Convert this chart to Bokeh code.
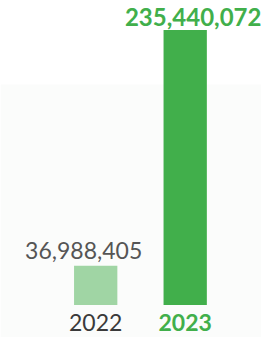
from bokeh.plotting import figure
from bokeh.models import Range1d, ColumnDataSource, BoxAnnotation
from bokeh.core.properties import value
from bokeh.embed import file_html
from bokeh.resources import INLINE

# ---- data ----
years = ["2022", "2023"]
amounts = [36988405, 235440072]
labels = ["36,988,405", "235,440,072"]
bar_colors = ["#a0d5a4", "#41af4b"]
value_colors = ["#555555", "#41af4b"]
year_colors = ["#3a3a3a", "#41af4b"]
value_styles = ["normal", "bold"]
year_styles = ["normal", "bold"]
value_sizes = ["23px", "24px"]

W, H = 261, 337
FONT = "Lato"

# layout geometry (screen pixels inside the canvas)
BAR_STEP = 89.5
FIRST_CENTER = 95.2
TOP_PX = 29.6
BASE_PX = 304.5
BASE = 4.0e6  # visual baseline of the bars
LABEL_DX = [-12, 8]     # horizontal nudges of the value labels (px)
LABEL_DY = [-15, -13]   # vertical nudges of the value labels (px)

x_start = -FIRST_CENTER / BAR_STEP
x_end = x_start + W / BAR_STEP
k = (BASE_PX - TOP_PX) / (max(amounts) - BASE)
y_end = max(amounts) + TOP_PX / k
y_start = BASE - (H - BASE_PX) / k

xs = list(range(len(years)))
src = ColumnDataSource(dict(
    x=xs, top=amounts, label=labels, year=years,
    bar_color=bar_colors, vcol=value_colors, ycol=year_colors,
    vstyle=value_styles, ystyle=year_styles, vsize=value_sizes,
    base=[BASE] * len(years), dx=LABEL_DX, dy=LABEL_DY,
))

p = figure(width=W, height=H, output_backend="svg", toolbar_location=None,
           x_range=Range1d(x_start, x_end), y_range=Range1d(y_start, y_end),
           x_axis_type=None, y_axis_type=None, min_border=0,
           outline_line_color=None, background_fill_color="white",
           border_fill_color="white")

bg_top = y_end - 84 / k
p.add_layout(BoxAnnotation(top=bg_top, fill_color="#fbfcfb", fill_alpha=1.0,
                           line_color=None, level="underlay"))

p.vbar(x="x", top="top", bottom="base", width=43.3 / BAR_STEP,
       fill_color="bar_color", line_color=None, source=src)

p.text(x="x", y="top", text="label", source=src, text_color="vcol",
       text_font=value(FONT), text_font_size="vsize", text_font_style="vstyle",
       text_align="center", text_baseline="alphabetic",
       x_offset="dx", y_offset="dy")

p.text(x="x", y="base", text="year", source=src, text_color="ycol",
       text_font=value(FONT), text_font_size="23px", text_font_style="ystyle",
       text_align="center", text_baseline="alphabetic", y_offset=17)

open("out.html", "w").write(file_html(p, INLINE))
